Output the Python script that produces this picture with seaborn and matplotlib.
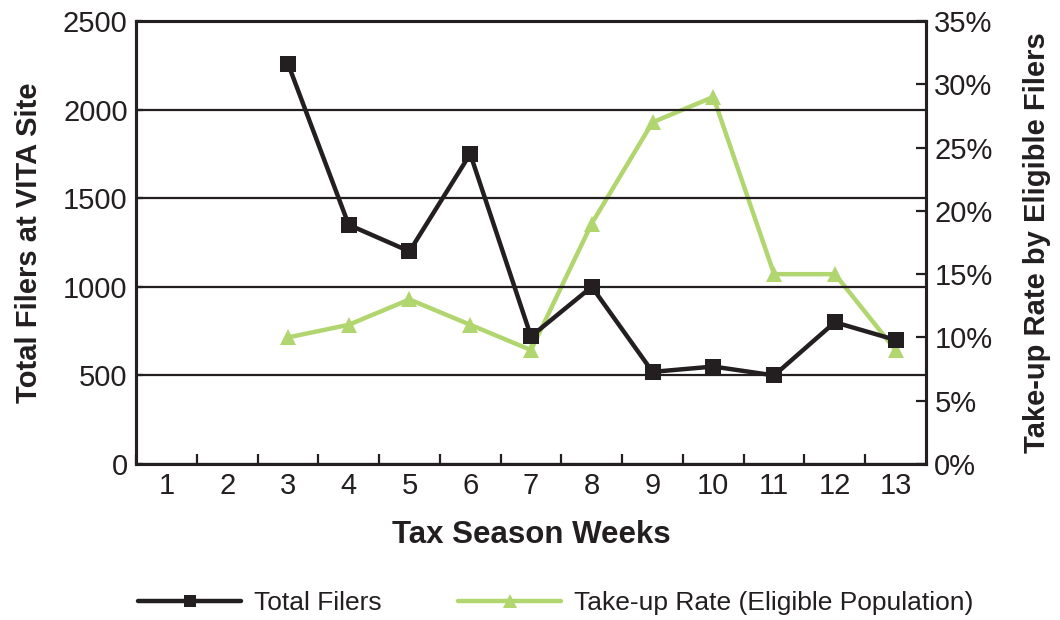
import matplotlib
matplotlib.use("Agg")
import matplotlib.pyplot as plt
import matplotlib.ticker as mticker
import seaborn as sns
import pandas as pd

weeks = [3, 4, 5, 6, 7, 8, 9, 10, 11, 12, 13]
total_filers = [2260, 1350, 1200, 1750, 720, 1000, 520, 550, 500, 800, 700]
take_up_rate = [10, 11, 13, 11, 9, 19, 27, 29, 15, 15, 9]
week_labels = [str(w) for w in range(1, 14)]

sns.set_theme(style="white")
plt.rcParams["font.family"] = ["Liberation Sans", "DejaVu Sans"]

BLACK = "#231f20"
GREEN = "#b2d66f"

df = pd.DataFrame({"week": weeks, "filers": total_filers, "rate": take_up_rate})

fig = plt.figure(figsize=(10.6, 6.2), dpi=100)
ax = fig.add_axes([0.1283, 0.2516, 0.7453, 0.7145])
ax2 = ax.twinx()

sns.lineplot(data=df, x="week", y="filers", ax=ax, color=BLACK, linewidth=3.2,
             marker="s", markersize=11, markeredgewidth=0, label="Total Filers",
             legend=False, zorder=3)
sns.lineplot(data=df, x="week", y="rate", ax=ax2, color=GREEN, linewidth=3.2,
             marker="^", markersize=12, markeredgewidth=0,
             label="Take-up Rate (Eligible Population)", legend=False, zorder=3)

ax.set_zorder(ax2.get_zorder() + 1)
ax.patch.set_visible(False)

ax.set_xlim(0.5, 13.5)
ax.set_ylim(0, 2500)
ax2.set_ylim(0, 35)

ax.yaxis.set_major_locator(mticker.MultipleLocator(500))
ax2.yaxis.set_major_locator(mticker.MultipleLocator(5))
ax2.yaxis.set_major_formatter(mticker.FuncFormatter(lambda v, p: f"{int(v)}%"))

ax.set_xticks(range(1, 14))
ax.set_xticklabels(week_labels)
ax.set_xticks([i + 0.5 for i in range(0, 13)], minor=True)

ax.grid(axis="y", color=BLACK, linewidth=1.6)
ax.grid(axis="x", visible=False)
ax2.grid(False)

for a in (ax, ax2):
    for s in a.spines.values():
        s.set_color(BLACK)
        s.set_linewidth(2.2)

ax.tick_params(axis="x", which="major", length=0, labelsize=21, colors=BLACK, pad=6)
ax.tick_params(axis="x", which="minor", direction="in", length=7, width=1.6,
               color=BLACK, bottom=True)
ax.tick_params(axis="y", direction="in", length=5, width=1.6, labelsize=21,
               colors=BLACK, pad=6)
ax2.tick_params(axis="y", direction="in", length=7, width=1.6, labelsize=21,
                colors=BLACK, pad=6)

label_font = dict(fontsize=21, fontweight="bold", color=BLACK)
ax.set_xlabel("Tax Season Weeks", labelpad=14, fontsize=22.5,
              fontweight="bold", color=BLACK)
ax.set_ylabel("Total Filers at VITA Site", labelpad=14, **label_font)
ax2.set_ylabel("Take-up Rate by Eligible Filers", labelpad=22, rotation=90,
               **label_font)

h1, l1 = ax.get_legend_handles_labels()
h2, l2 = ax2.get_legend_handles_labels()
fig.legend(h1 + h2, l1 + l2, loc="center", bbox_to_anchor=(0.5245, 0.027), ncol=2,
           frameon=False, handlelength=3.9, columnspacing=2.9, handletextpad=0.5,
           markerscale=0.8, labelcolor=BLACK, prop={"size": 19})

fig.savefig("out.png", dpi=100)
